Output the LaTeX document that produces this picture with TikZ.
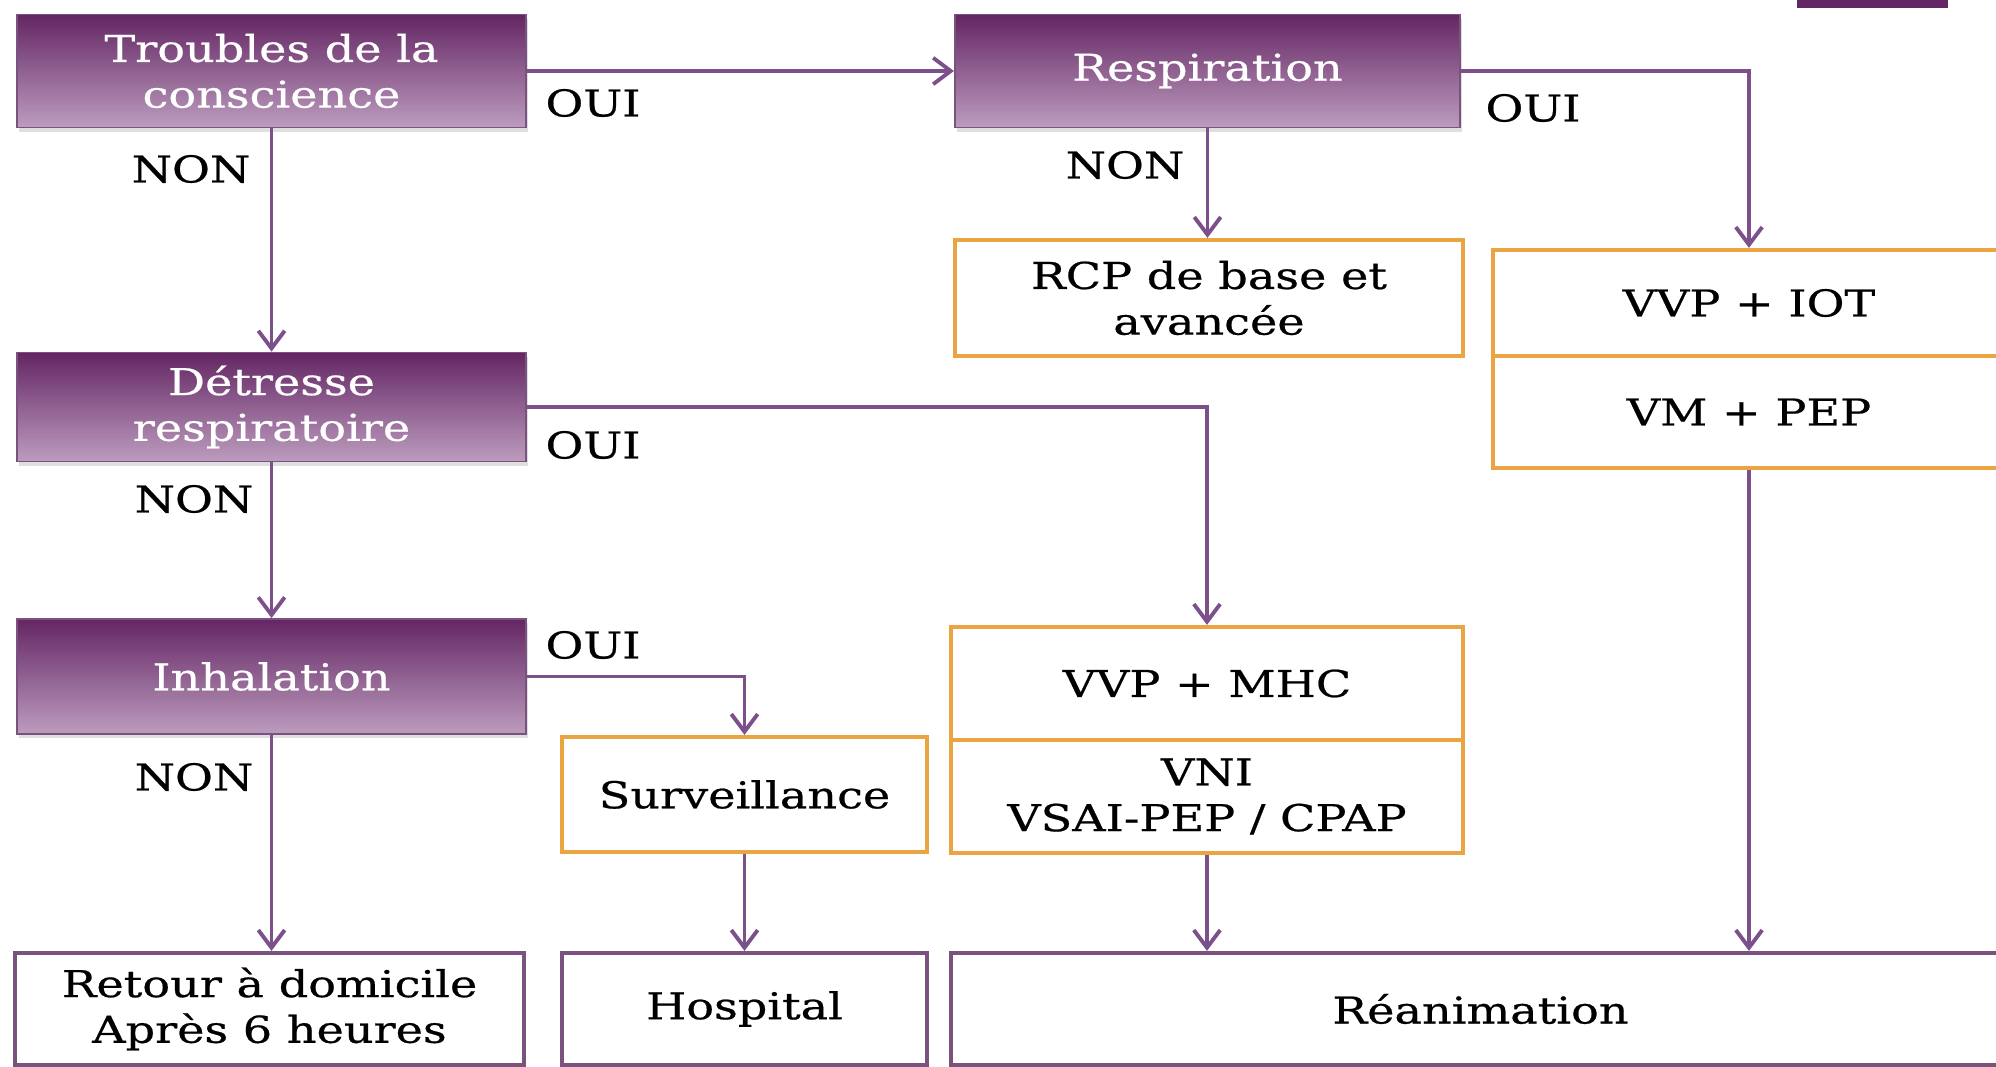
\documentclass[tikz,border=0pt]{standalone}
\usepackage{fontspec}
\setmainfont{DejaVu Serif}[FakeStretch=1.25, FakeBold=0.6]
\usepackage{xcolor}
\usepackage{tikz}
\usetikzlibrary{arrows.meta}
\usetikzlibrary{shadows}

\definecolor{plumtop}{RGB}{100,38,100}
\definecolor{plumbot}{RGB}{188,156,190}
\definecolor{plumline}{RGB}{124,80,138}
\definecolor{plumedge}{RGB}{122,82,126}
\definecolor{amber}{RGB}{234,164,66}

\tikzset{
  question/.style={draw=plumedge, line width=0.5pt, top color=plumtop, bottom color=plumbot,
    text=white, align=center, inner sep=0pt,
    drop shadow={shadow xshift=0.6pt, shadow yshift=-1.2pt, opacity=0.25}},
  action/.style={draw=amber, line width=1.2pt, fill=white, align=center, inner sep=0pt},
  outcome/.style={draw=plumedge, line width=1.2pt, fill=white, align=center, inner sep=0pt},
  answer/.style={inner sep=0pt},
  conn/.style={draw=plumline, line width=1.1pt, -{Straight Barb[length=5pt,width=7.5pt]}}
}

\begin{document}
\begin{tikzpicture}[x=0.01cm, y=-0.01cm, font=\fontsize{10.5}{13}\selectfont]
\useasboundingbox (0,0) rectangle (1996,1067);
\fill[plumtop] (1797,0) rectangle (1948,8);

% questions
\node[question, minimum width=5.09cm, minimum height=1.13cm] (trbl) at (271.5,71) {Troubles de la\\conscience};
\node[question, minimum width=5.05cm, minimum height=1.13cm] (resp) at (1207.5,71) {Respiration};
\node[question, minimum width=5.09cm, minimum height=1.09cm] (detr) at (271.5,407) {D\'etresse\\respiratoire};
\node[question, minimum width=5.09cm, minimum height=1.15cm] (inha) at (271.5,676.5) {Inhalation};

% actions
\node[action, minimum width=5.08cm, minimum height=1.16cm] (rcp) at (1209,298) {RCP de base et\\avanc\'ee};
\node[action, minimum width=5.12cm, minimum height=1.06cm] (iot) at (1749,303) {VVP + IOT};
\node[action, minimum width=5.12cm, minimum height=1.12cm] (pep) at (1749,412) {VM + PEP};
\node[action, minimum width=5.12cm, minimum height=1.13cm] (mhc) at (1207,683.5) {VVP + MHC};
\node[action, minimum width=5.12cm, minimum height=1.13cm] (vni) at (1207,796.5) {VNI\\VSAI-PEP / CPAP};
\node[action, minimum width=3.65cm, minimum height=1.15cm] (surv) at (744.5,794.5) {Surveillance};

% outcomes
\node[outcome, minimum width=5.09cm, minimum height=1.12cm] (ret) at (269.5,1009) {Retour \`a domicile\\Apr\`es 6 heures};
\node[outcome, minimum width=3.65cm, minimum height=1.12cm] (hosp) at (744.5,1009) {Hospital};
\node[outcome, minimum width=10.59cm, minimum height=1.12cm] (rea) at (1480.5,1009) {R\'eanimation};

% connectors
\draw[conn] (trbl.east) -- (resp.west);
\draw[conn] (resp.east) -| (iot.north);
\draw[conn] (resp.south) -- (resp.south |- rcp.north);
\draw[conn] (trbl.south) -- (detr.north);
\draw[conn] (detr.east) -| (mhc.north);
\draw[conn] (detr.south) -- (inha.north);
\draw[conn] (inha.east) -| (surv.north);
\draw[conn] (inha.south) -- (inha.south |- ret.north);
\draw[conn] (surv.south) -- (hosp.north);
\draw[conn] (vni.south) -- (vni.south |- rea.north);
\draw[conn] (pep.south) -- (pep.south |- rea.north);

% answers
\node[answer] (oui1) at (593,103) {OUI};
\node[answer] (non1) at (191,169) {NON};
\node[answer] (oui2) at (1533,108) {OUI};
\node[answer] (non2) at (1125,165) {NON};
\node[answer] (oui3) at (593,445) {OUI};
\node[answer] (non3) at (194,499) {NON};
\node[answer] (oui4) at (593,645) {OUI};
\node[answer] (non4) at (194,777) {NON};
\end{tikzpicture}
\end{document}
